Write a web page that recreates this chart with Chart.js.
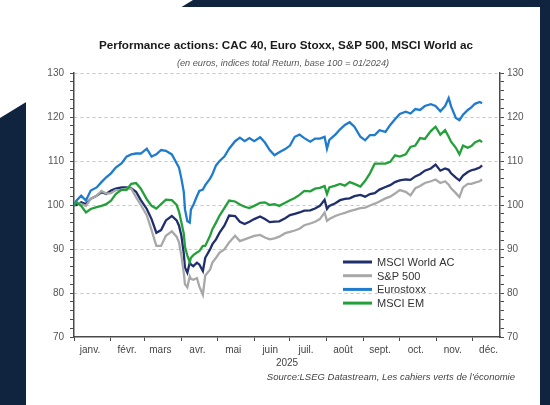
<!DOCTYPE html>
<html>
<head>
<meta charset="utf-8">
<script src="https://cdn.jsdelivr.net/npm/chart.js@4.4.1/dist/chart.umd.min.js"></script>
<style>
html, body { margin:0; padding:0; width:550px; height:405px; overflow:hidden; background:#fff; }
#fond { position:absolute; left:0; top:0; width:550px; height:405px; background:#10233f;
  clip-path: polygon(193px 0, 550px 0, 550px 405px, 0 405px, 0 118px); }
#cadre { position:absolute; left:26px; top:7px; width:514px; height:398px; background:#fff; }
canvas { display:block; }
</style>
</head>
<body>
<div id="fond"></div>
<div id="cadre"><canvas id="graf" width="514" height="398"></canvas></div>
<script>
// jours depuis le 1er janvier 2025
var jours = [0,2,6,10,14,19,23,27,31,35,40,44,48,52,56,61,65,69,73,77,82,86,88,90,92,93,95,97,98,100,
  103,105,108,110,114,116,119,122,126,130,135,139,143,147,151,156,160,164,168,172,177,181,185,189,193,198,202,206,210,212,
  214,219,223,227,231,235,240,244,248,252,256,261,265,269,273,278,282,286,290,294,299,303,307,311,314,316,320,323,326,330,
  333,336,340,342];

var msciWorld = [100,100,100.6,100.2,101.4,102.1,102.9,102.5,103.3,103.7,
  104,104,103.8,103,101.1,99.1,96.8,93.7,94.3,96.5,
  97.5,96.5,95.3,93,89,85.8,84.6,86.9,86.5,86.1,
  86.9,86.5,85,88,89.9,91.1,92.2,93.7,95.3,97.6,
  97.5,96.2,95.7,96.2,96.8,97.4,96.8,96.1,96.2,96.3,
  97,97.7,98,98.3,98.7,98.8,99.2,99.8,101.2,99.1,
  99.8,100.4,101.1,101.4,101.5,102,102.3,101.9,102.5,102.7,
  103.5,104.1,104.5,105.2,105.6,105.8,105.7,106.5,107,107.8,
  108.3,109.2,107.8,108.3,108,107.2,106.2,105.6,106.7,107.5,
  107.9,108.1,108.5,109];

var sp500 = [100,100.6,100.2,99.8,101.4,102.1,103.2,102.6,102.7,103.4,
  103.4,103.7,103.7,101.8,100,97.7,94.3,90.7,90.7,93,
  94,92.8,91.5,88.5,84.5,82,81.3,83.8,83.2,83,
  83.4,81.5,79.6,84,85.3,86.9,88,89.2,89.9,91.5,
  93,91.8,92.2,92.6,93,93.2,92.6,92.2,92.4,92.8,
  93.6,93.9,94.2,94.6,95.4,95.8,96.2,96.8,98.3,96.4,
  96.8,97.5,97.9,98.2,98.6,98.9,99.3,99.4,99.9,100.3,
  100.8,101.5,101.9,102.6,103.4,103,102.2,103.8,104.3,105,
  105.4,105.8,105,105.4,104.6,103.8,102.7,101.8,104,104.8,
  104.8,105.1,105.4,105.8];

var eurostoxx = [100,101,102.1,101,103.3,104,105.2,106.3,107.2,108.5,
  109.5,111,111.5,111.7,111.7,112.8,111,111.5,112.5,112.3,
  111.5,109.5,108.5,106,103,99,96.3,96,99,100,
  102,103.2,103.5,104.5,106,107,109,110,111,112.8,
  114.5,115.3,114.5,115.2,114.5,115.4,114.2,112.5,111.3,112,
  112.7,113.5,115.5,116,115.2,114.4,115.1,115.1,115.5,112.8,
  114.8,116,117.2,118.2,118.8,117.8,115.5,114.7,115.9,115.9,
  117,116.6,118.2,119.5,120.7,121.2,120.8,121.8,121.6,122.5,
  122.9,122.5,121.3,122.5,124.3,122.4,119.8,119.3,120.5,121.6,
  122.2,123,123.4,123.1];

var msciEm = [100,100.6,99.8,98.3,99.1,99.5,99.8,100.2,101,102.5,
  103.5,103.4,104.8,105,103.7,101.3,99.8,99.2,100.2,101.2,
  101.1,100,98.5,96,93.5,90.5,88.5,87,88,88.6,
  89.2,89.5,90.7,90.7,93,94.5,96,97.6,99.3,101,
  100.8,100.1,99.6,99.3,99.8,100.5,100.6,100,100.2,99.8,
  100.5,101.1,101.6,102.3,103.2,103.1,103.7,103.9,104.3,102.5,
  104,104.4,104.8,104.4,105.2,104.8,104.2,105.5,107.2,109.4,
  109.4,109.4,109.8,111.3,111,111.5,113.2,113.5,115.2,115,
  116.8,117.8,116,117,115.5,114.4,113,111.5,113.5,113,
  113.4,114.2,114.7,114.3];

var mois = ['janv.','févr.','mars','avr.','mai','juin','juil.','août','sept.','oct.','nov.','déc.'];
var debutMois = [0,31,59,90,120,151,181,212,243,273,304,334];

var noms = ['MSCI World AC','S&P 500','Eurostoxx','MSCI EM'];
var couleurs = ['#1f2f6d','#a8a8a8','#1f7ccc','#23a03a'];
var series = [msciWorld, sp500, eurostoxx, msciEm];

var titre = 'Performance actions: CAC 40, Euro Stoxx, S&P 500, MSCI World ac';
var sousTitre = '(en euros, indices total Return, base 100 = 01/2024)';
var source = 'Source:LSEG Datastream, Les cahiers verts de l’économie';

function points(serie) {
    return jours.map(function (j, i) { return { x: j, y: serie[i] }; });
}

var datasets = [];
for (var k = 0; k < series.length; k++) {
    datasets.push({
        label: noms[k],
        data: points(series[k]),
        borderColor: couleurs[k],
        borderWidth: 2.3,
        pointRadius: 0,
        tension: 0,
        order: series.length - k
    });
}

var police = '"Liberation Sans", Arial, sans-serif';

// titres, legende et source dessines sur le canvas
var textes = {
    id: 'textes',
    afterDraw: function (chart) {
        var c = chart.ctx;
        c.save();
        c.textAlign = 'center';
        c.textBaseline = 'middle';
        c.fillStyle = '#1a1a1a';
        c.font = 'bold 11.7px ' + police;
        c.fillText(titre, 260, 39);
        c.fillStyle = '#555';
        c.font = 'italic 9.2px ' + police;
        c.fillText(sousTitre, 257, 56);
        c.font = '10px ' + police;
        c.fillStyle = '#444';
        c.fillText('2025', 261, 356);
        c.textAlign = 'right';
        c.font = 'italic 9.5px ' + police;
        c.fillText(source, 489, 370);

        // legende
        c.textAlign = 'left';
        c.font = '11px ' + police;
        for (var i = 0; i < noms.length; i++) {
            var y = 255 + i * 13.7;
            c.strokeStyle = couleurs[i];
            c.lineWidth = 3;
            c.beginPath();
            c.moveTo(317, y);
            c.lineTo(346, y);
            c.stroke();
            c.fillStyle = '#333';
            c.fillText(noms[i], 351, y + 1);
        }
        c.restore();
    }
};

function axeY(position) {
    return {
        type: 'linear',
        position: position,
        min: 70,
        max: 130,
        afterFit: function (s) { s.width = 40; },
        ticks: {
            stepSize: 2,
            autoSkip: false,
            padding: position === 'left' ? 6 : 3,
            color: '#555',
            font: { family: police, size: 10 },
            callback: function (v) { return v % 10 === 0 ? v : ''; }
        },
        grid: {
            drawOnChartArea: position === 'left',
            color: function (ctx) {
                var v = ctx.tick ? ctx.tick.value : 0;
                return (v % 10 === 0 && v > 70) ? '#c6c6c6' : 'transparent';
            },
            lineWidth: 1,
            tickLength: 4,
            tickColor: '#4a4a4a'
        },
        border: { color: '#4a4a4a', width: 1.5, dash: [3, 3] }
    };
}

var graf = document.getElementById('graf').getContext('2d');

var grafico = new Chart(graf, {
    type: 'line',
    data: { datasets: datasets },
    plugins: [textes],
    options: {
        responsive: false,
        animation: false,
        layout: { padding: { left: 8, right: 0, top: 66, bottom: 48 } },
        plugins: {
            legend: { display: false },
            tooltip: { enabled: false }
        },
        scales: {
            x: {
                type: 'linear',
                min: 0,
                max: 357,
                afterBuildTicks: function (s) {
                    s.ticks = debutMois.map(function (v) { return { value: v }; });
                },
                afterFit: function (s) { s.height = 20; },
                ticks: {
                    autoSkip: false,
                    maxRotation: 0,
                    labelOffset: 16,
                    padding: 3,
                    color: '#444',
                    font: { family: police, size: 10 },
                    callback: function (v, i) { return mois[i]; }
                },
                grid: { drawOnChartArea: false, tickLength: 4, tickColor: '#4a4a4a' },
                border: { color: '#4a4a4a', width: 1.5 }
            },
            y: axeY('left'),
            y2: axeY('right')
        }
    }
});
</script>
</body>
</html>
